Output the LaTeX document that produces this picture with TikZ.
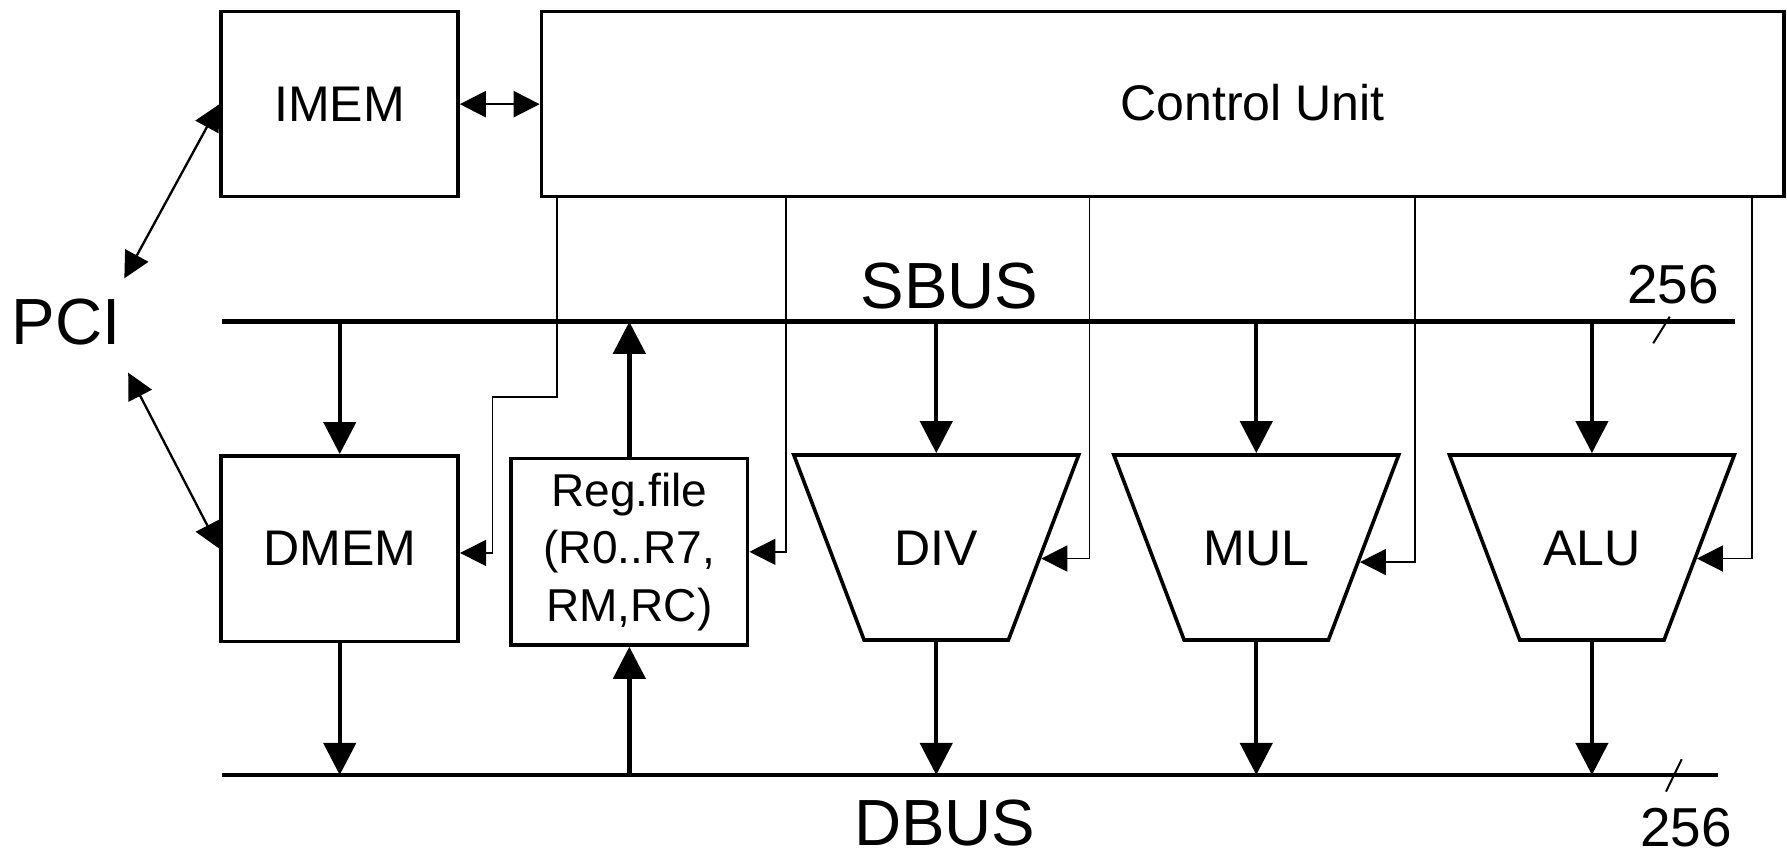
\documentclass[tikz,border=0pt]{standalone}
\usepackage{fontspec}
\setmainfont{Liberation Sans}
\usetikzlibrary{arrows.meta,shapes.geometric}

\begin{document}
\begin{tikzpicture}[
  blk/.style={draw,line width=0.9pt,minimum width=2.08cm,minimum height=1.63cm,inner sep=0pt,font=\fontsize{12.5}{15}\selectfont},
  fu/.style={draw,line width=0.9pt,trapezium,shape border rotate=180,trapezium left angle=69.2,trapezium right angle=69.2,inner sep=0pt,text width=1.266cm,text height=0.9695cm,text depth=0.6545cm,align=center,font=\fontsize{12.5}{15}\selectfont},
  bus/.style={line width=1.2pt},
  busarrow/.style={line width=1.1pt,-{Triangle[length=8pt,width=8pt]}},
  ctl/.style={line width=0.42pt,-{Triangle[length=6.5pt,width=6.5pt]}},
  link/.style={line width=0.58pt,{Triangle[length=6.5pt,width=6.5pt]}-{Triangle[length=6.5pt,width=6.5pt]}},
  big/.style={inner sep=0pt,font=\fontsize{16.3}{19}\selectfont},
  bitcount/.style={inner sep=0pt,font=\fontsize{13.7}{16}\selectfont}]
\useasboundingbox (0,0) rectangle (15.68,7.5);
\node[blk,minimum width=2.078cm,minimum height=1.623cm] (imem) at (2.98,6.586) {IMEM};
\node[blk,minimum width=10.902cm,minimum height=1.623cm] (cu) at (10.202,6.586) {};
\node[inner sep=0pt,font=\fontsize{12.5}{15}\selectfont] (cutxt) at (10.99,6.6) {Control Unit};
\node[blk] (dmem) at (2.981,2.685) {DMEM};
\node[blk,minimum width=2.076cm,minimum height=1.635cm,align=center,font=\fontsize{11.5}{14.4}\selectfont] (reg) at (5.522,2.658) {Reg.file\\(R0..R7,\\RM,RC)};
\node[fu] (div) at (8.215,2.696) {DIV};
\node[fu] (mul) at (11.023,2.696) {MUL};
\node[fu] (alu) at (13.968,2.696) {ALU};
\node[big] (pci) at (0.579,4.675) {PCI};
\node[big] (sbus) at (8.33,4.99) {SBUS};
\node[big] (dbus) at (8.29,0.28) {DBUS};
\node[bitcount] (sw) at (14.678,5.004) {256};
\node[bitcount] (dw) at (14.792,0.235) {256};
\coordinate (sbw) at (1.948,4.677);
\coordinate (sbe) at (15.225,4.677);
\coordinate (dbw) at (1.95,0.70);
\coordinate (dbe) at (15.071,0.70);
\coordinate (pcin) at (1.091,5.058);
\coordinate (pcis) at (1.125,4.23);
\draw[bus] (sbw) -- (sbe);
\draw[bus] (dbw) -- (dbe);
\draw[line width=0.5pt] (14.651,4.721) -- (14.506,4.488);
\draw[line width=0.5pt] (14.756,0.838) -- (14.618,0.554);
\draw[link] (pcin) -- (imem.west);
\draw[link] (pcis) -- (dmem.west);
\draw[link] (imem.east) -- (cu.west);
\draw[busarrow] (dmem.north |- sbw) -- (dmem.north);
\draw[busarrow] (dmem.south) -- (dmem.south |- dbw);
\draw[busarrow] (reg.north) -- (reg.north |- sbw);
\draw[busarrow] (reg.south |- dbw) -- (reg.south);
\foreach \u in {div,mul,alu} {
  \draw[busarrow] (\u.north |- sbw) -- (\u.north);
  \draw[busarrow] (\u.south) -- (\u.south |- dbw);
}
\draw[ctl] (4.886,0 |- cu.south) |- (4.322,4.014) |- (dmem.-2.5);
\foreach \x/\tgt in {6.894/reg.east,9.559/div.-6,12.416/mul.-8,15.375/alu.-6.5}
  \draw[ctl] (\x,0 |- cu.south) |- (\tgt);
\end{tikzpicture}
\end{document}
